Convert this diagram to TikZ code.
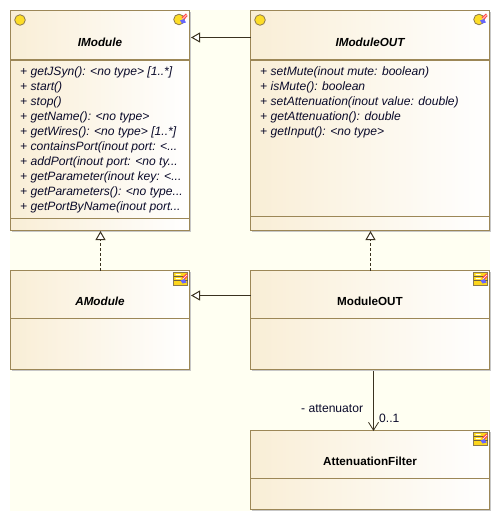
\documentclass[tikz,border=0pt]{standalone}
\usepackage{fontspec}
\setmainfont{Liberation Sans}
\usetikzlibrary{arrows.meta,shadows}
\definecolor{bgc}{HTML}{FFFFF2}
\definecolor{edgec}{HTML}{9C8757}
\definecolor{warm}{HTML}{F9EED6}
\definecolor{linkc}{HTML}{3A3220}
\definecolor{txtc}{HTML}{0A0A2A}
\tikzset{
  x=1pt,y=-1pt,
  umlbox/.style={draw=edgec,line width=1pt,left color=warm,right color=white,
    anchor=north west,inner sep=0pt,outer sep=0pt,
    general shadow={fill=black!22,shadow xshift=1.5pt,shadow yshift=-1.5pt}},
  divider/.style={draw=edgec,line width=1pt},
  headdiv/.style={draw=edgec,line width=1.8pt},
  title/.style={font=\fontsize{11.7}{14}\selectfont\bfseries,text=black},
  ititle/.style={font=\fontsize{11.7}{14}\selectfont\bfseries\itshape,text=black},
  ops/.style={font=\fontsize{12.1}{15}\selectfont\itshape,text=txtc,anchor=north west,
    align=left,inner sep=0pt},
  lbl/.style={font=\fontsize{12.1}{14}\selectfont,text=txtc,inner sep=0pt},
  gen/.style={draw=linkc,line width=1pt,-{Triangle[open,length=9pt,width=10pt,fill=white]}},
  real/.style={gen,dash pattern=on 3pt off 2pt},
  assoc/.style={draw=linkc,line width=1pt,-{Straight Barb[length=8pt,width=10pt,line width=.8pt]}},
}
\newcommand{\penmark}[2]{%
  \fill[red!70!white] (#1-.5,#2-3) -- (#1+4,#2-7) -- (#1+5.5,#2-4.5) -- (#1+2,#2-.5) -- cycle;
  \fill[blue!60!white] (#1-2,#2) -- (#1+2,#2-1.5) -- (#1+4,#2+2) -- (#1,#2+3) -- cycle;
  \draw[white,line width=.5pt] (#1+.5,#2-1.5) -- (#1+4.5,#2-5.5);
}
\newcommand{\ifacemark}[2]{\draw[fill=yellow!75!orange!85!white,draw=edgec!90!black,line width=.8pt] (#1,#2) circle (5.3);}
\newcommand{\ifacepen}[2]{\ifacemark{#1-2}{#2}\penmark{#1+1}{#2+1}}
\newcommand{\classmark}[2]{%
  \fill[yellow!70!orange!90!white,draw=edgec!90!black,line width=.7pt] (#1,#2) rectangle (#1+14,#2+13);
  \draw[edgec!70!black,line width=.7pt] (#1,#2+4) -- (#1+14,#2+4) (#1,#2+8) -- (#1+14,#2+8);
  \fill[white] (#1+2,#2+1.5) rectangle (#1+7,#2+2.5) (#1+2,#2+5.5) rectangle (#1+7,#2+6.5);
  \penmark{#1+9}{#2+8}
}
\begin{document}
\begin{tikzpicture}
\useasboundingbox (0,0) rectangle (501,521);
\fill[white] (0,0) rectangle (501,521);
\fill[bgc] (10,10) rectangle (490,511);

\node[umlbox,minimum width=179pt,minimum height=220pt] (imodule) at (10.5,10.5) {};
\node[umlbox,minimum width=239pt,minimum height=220pt] (imout) at (250.5,10.5) {};
\node[umlbox,minimum width=179pt,minimum height=99pt] (amodule) at (10.5,270.5) {};
\node[umlbox,minimum width=239pt,minimum height=99pt] (modout) at (250.5,270.5) {};
\node[umlbox,minimum width=239pt,minimum height=79pt] (filter) at (250.5,430.5) {};

% compartments
\draw[headdiv] (10.5,60) -- (189.5,60);
\draw[divider] (10.5,218.5) -- (189.5,218.5);
\draw[headdiv] (250.5,60) -- (489.5,60);
\draw[divider] (250.5,216.5) -- (489.5,216.5);
\draw[divider] (10.5,318.5) -- (189.5,318.5);
\draw[divider] (250.5,318.5) -- (489.5,318.5);
\draw[divider] (250.5,478.5) -- (489.5,478.5);

% titles
\node[ititle] (t1) at (100,42.5) {IModule};
\node[ititle] (t2) at (370,42.5) {IModuleOUT};
\node[ititle] (t3) at (100,301.5) {AModule};
\node[title] (t4) at (370,301.5) {ModuleOUT};
\node[title] (t5) at (370,461.5) {AttenuationFilter};

% operations
\node[ops] (o1) at (20,66.5) {+ getJSyn(): <no type> [1..*]\\
+ start()\\
+ stop()\\
+ getName(): <no type>\\
+ getWires(): <no type> [1..*]\\
+ containsPort(inout port: <...\\
+ addPort(inout port: <no ty...\\
+ getParameter(inout key: <...\\
+ getParameters(): <no type...\\
+ getPortByName(inout port...};
\node[ops] (o2) at (260,66.5) {+ setMute(inout mute: boolean)\\
+ isMute(): boolean\\
+ setAttenuation(inout value: double)\\
+ getAttenuation(): double\\
+ getInput(): <no type>};

% icons
\ifacemark{20}{20}
\ifacepen{181}{19.5}
\ifacemark{260}{20}
\ifacepen{481}{19.5}
\classmark{473.5}{272.5}
\classmark{173.5}{272.5}
\classmark{473.5}{432.5}

% connectors
\coordinate (a) at (250.5,37.5);
\coordinate (b) at (250.5,295.5);
\coordinate (c) at (100.5,270.5);
\coordinate (d) at (370.5,270.5);
\coordinate (e) at (373.5,371);
\coordinate (f) at (373.5,431);
\draw[gen] (a) -- (191,37.5);
\draw[gen] (b) -- (191,295.5);
\draw[real] (c) -- (100.5,231);
\draw[real] (d) -- (370.5,231);
\draw[assoc] (e) -- (f);

\node[lbl,anchor=west] (l1) at (301,408.5) {- attenuator};
\node[lbl,anchor=west] (l2) at (379,418) {0..1};
\end{tikzpicture}
\end{document}
